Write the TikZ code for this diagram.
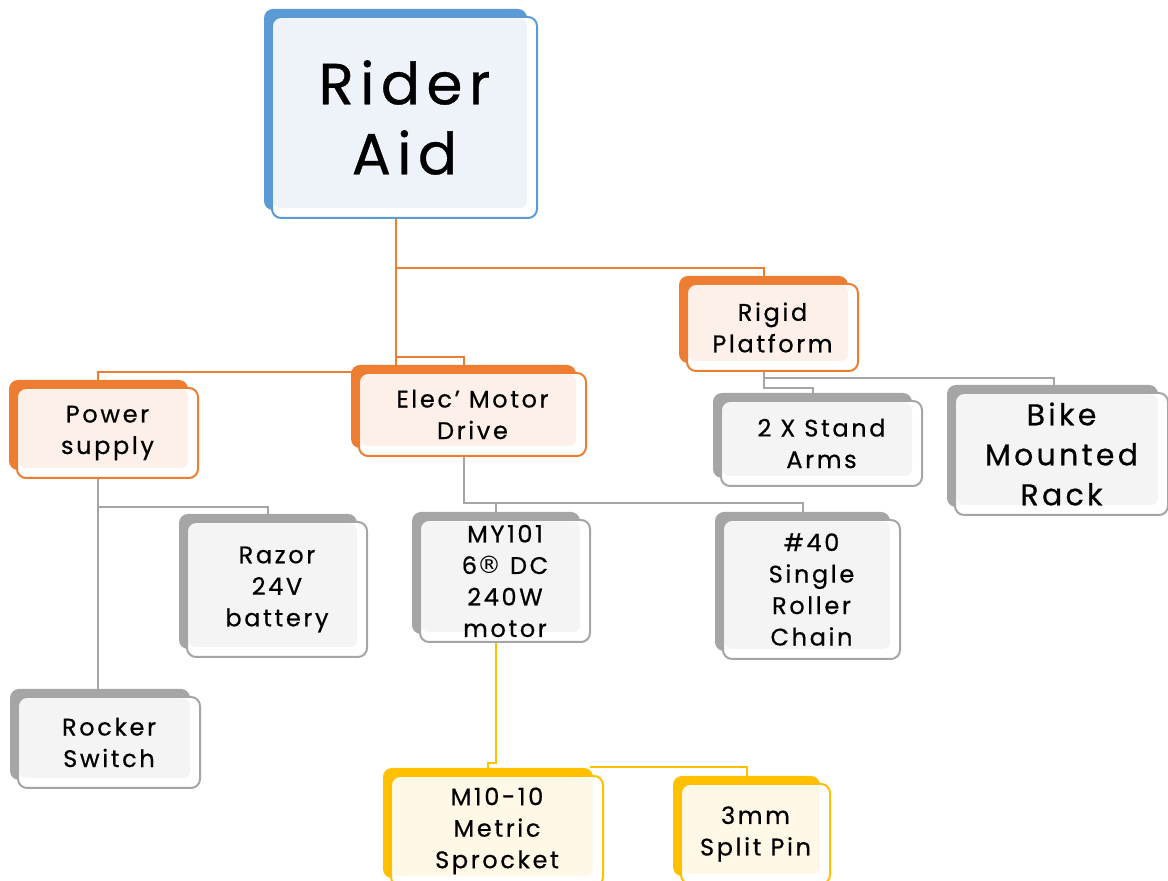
\documentclass[tikz,border=0pt]{standalone}
\usepackage{fontspec}
\setmainfont{Poppins}[LetterSpace=11.0, FakeBold=0.6]
\newfontfamily\symfont{DejaVu Sans}
\usetikzlibrary{calc}

\definecolor{cblue}{HTML}{5B9BD5}
\definecolor{tblue}{HTML}{EEF3FA}
\definecolor{corange}{HTML}{ED7D31}
\definecolor{torange}{HTML}{FDF0E9}
\definecolor{cgray}{HTML}{A5A5A5}
\definecolor{tgray}{HTML}{F4F4F4}
\definecolor{cyellow}{HTML}{FFC000}
\definecolor{tyellow}{HTML}{FFF8E6}

\pgfdeclarelayer{lines}
\pgfdeclarelayer{back}
\pgfsetlayers{lines,back,main}

\tikzset{
  orgbox/.style 2 args={draw=#1, fill=white, line width=2pt, rounded corners=9pt,
    inner sep=0pt, align=center, text=black,
    path picture={\fill[#2, rounded corners=7pt]
      ([shift={(1.5,-1.5)}]path picture bounding box.north west) rectangle
      ([shift={(-10,10)}]path picture bounding box.south east);}},
  lbl/.style={font=\fontsize{24}{31.5}\selectfont},
  biglbl/.style={font=\fontsize{30}{40}\selectfont},
  conn/.style={line width=2pt, #1},
}
\newcommand\regmark{{\symfont ®}}

\begin{document}
\begin{tikzpicture}[x=1pt, y=1pt]
\useasboundingbox (0,0) rectangle (1168,881);

% boxes
\node [orgbox={cblue}{tblue}, minimum width=265, minimum height=201,
  font=\fontsize{58}{70}\selectfont] (root) at (404.5,763.5) {Rider\\Aid};
\node [orgbox={corange}{torange}, lbl, minimum width=181, minimum height=90] (power) at (107.5,448) {Power\\supply};
\node [orgbox={corange}{torange}, lbl, minimum width=227, minimum height=83] (elec) at (472.5,466.5) {Elec' Motor\\Drive};
\node [orgbox={corange}{torange}, lbl, minimum width=171, minimum height=87] (rigid) at (772.5,553.5) {Rigid\\Platform};
\node [orgbox={cgray}{tgray}, lbl, minimum width=201, minimum height=85] (stand) at (821.5,437.5) {2 X Stand\\Arms};
\node [orgbox={cgray}{tgray}, biglbl, minimum width=213, minimum height=122] (rack) at (1061.5,427) {Bike\\Mounted\\Rack};
\node [orgbox={cgray}{tgray}, lbl, minimum width=180, minimum height=135] (razor) at (277,291.5) {Razor\\24V\\battery};
\node [orgbox={cgray}{tgray}, lbl, minimum width=170, minimum height=122] (motor) at (505,300) {MY101\\6\regmark{} DC\\240W\\motor};
\node [orgbox={cgray}{tgray}, lbl, minimum width=177, minimum height=139] (chain) at (811.5,291.5) {\#40\\Single\\Roller\\Chain};
\node [orgbox={cgray}{tgray}, lbl, minimum width=182, minimum height=91] (rocker) at (109,138.5) {Rocker\\Switch};
\node [orgbox={cyellow}{tyellow}, lbl, minimum width=212, minimum height=110] (sprocket) at (497,50) {M10-10\\Metric\\Sprocket};
\node [orgbox={cyellow}{tyellow}, lbl, minimum width=149, minimum height=100] (pin) at (755.5,47) {3mm\\Split Pin};

% coloured back plates
\begin{pgfonlayer}{back}
\foreach \n/\c in {root/cblue, power/corange, elec/corange, rigid/corange,
    stand/cgray, rack/cgray, razor/cgray, motor/cgray, chain/cgray, rocker/cgray,
    sprocket/cyellow, pin/cyellow}
  \fill [\c, rounded corners=9pt] ([shift={(-7,9)}]\n.south west) rectangle ([shift={(-11,7)}]\n.north east);
\end{pgfonlayer}

% connectors
\begin{pgfonlayer}{lines}
\coordinate (j1) at (396,613);
\coordinate (j2) at (396,524);
\coordinate (j3) at (396,509);
\coordinate (p1) at (98,374);
\coordinate (e1) at (464,378);
\coordinate (r1) at (764,493);
\coordinate (r2) at (764,503);
\coordinate (m1) at (496,118);
\coordinate (s1) at (590,114);

\draw [conn=corange] ([xshift=-8.5]root.center) -- (j1) -| ([xshift=-8.5]rigid.center);
\draw [conn=corange] (j1) -- (j2) -| ([xshift=-8.5]elec.center);
\draw [conn=corange] (j2) -- (j3) -| ([xshift=-9.5]power.center);

\draw [conn=cgray] ([xshift=-9.5]power.center) -- (p1) -- (p1 |- rocker.center);
\draw [conn=cgray] (p1) -| ([xshift=-9]razor.center);
\draw [conn=cgray] ([xshift=-8.5]elec.center) -- (e1) -| ([xshift=-8.5]chain.center);
\draw [conn=cgray] (e1) -| ([xshift=-9]motor.center);
\draw [conn=cgray] ([xshift=-8.5]rigid.center) -- (r1) -| ([xshift=-8.5]stand.center);
\draw [conn=cgray] (r2) -| ([xshift=-7.5]rack.center);

\draw [conn=cyellow] ([xshift=-9]motor.center) -- (m1) -| ([xshift=-9]sprocket.center);
\draw [conn=cyellow] (s1) -| ([xshift=-8.5]pin.center);
\end{pgfonlayer}
\end{tikzpicture}
\end{document}
